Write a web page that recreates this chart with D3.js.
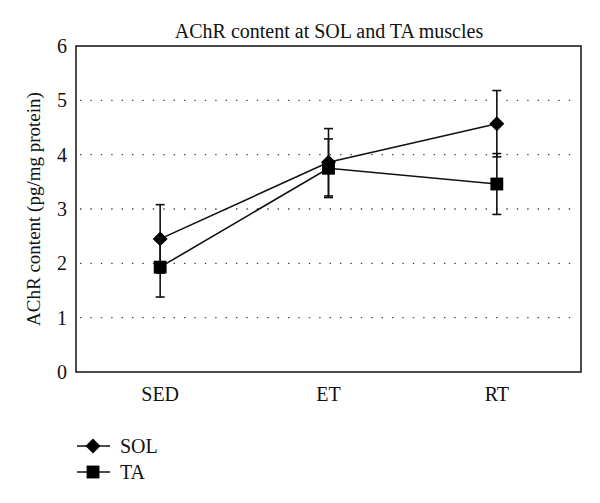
<!DOCTYPE html>
<html><head><meta charset="utf-8">
<script src="https://cdn.jsdelivr.net/npm/d3@7"></script>
<style>body{margin:0;background:#fff}svg{display:block}</style>
</head><body>
<svg id="chart" width="600" height="503"></svg>
<script>
const categories = ["SED", "ET", "RT"];
const solValues = [2.45, 3.86, 4.57];
const solErrors = [0.63, 0.62, 0.61];
const taValues = [1.93, 3.75, 3.46];
const taErrors = [0.55, 0.54, 0.56];
const yTicks = [0, 1, 2, 3, 4, 5, 6];
const gridTicks = [1, 2, 3, 4, 5];

const svg = d3.select("#chart");
const font = "'Liberation Serif', 'DejaVu Serif', serif";
const L = 76, R = 581, T = 46, B = 372;
const x = d3.scalePoint().domain(categories).range([L, R]).padding(0.5);
const y = d3.scaleLinear().domain([0, 6]).range([B, T]);

// grid
svg.append("g").selectAll("line").data(gridTicks).join("line")
  .attr("x1", L + 4).attr("x2", R - 2)
  .attr("y1", d => y(d)).attr("y2", d => y(d))
  .attr("stroke", "#444").attr("stroke-width", 1.3)
  .attr("stroke-dasharray", "1.4,9");

// frame
svg.append("rect").attr("x", L).attr("y", T).attr("width", R - L).attr("height", B - T)
  .attr("fill", "none").attr("stroke", "#111").attr("stroke-width", 1.5);

// y axis ticks labels
svg.append("g").selectAll("text").data(yTicks).join("text")
  .attr("x", 62).attr("y", d => y(d) + 7)
  .attr("text-anchor", "middle").attr("font-family", font).attr("font-size", 20)
  .attr("fill", "#111").text(d => d);

// x labels
svg.append("g").selectAll("text").data(categories).join("text")
  .attr("x", d => x(d)).attr("y", 401)
  .attr("text-anchor", "middle").attr("font-family", font).attr("font-size", 20)
  .attr("fill", "#111").text(d => d);

// title
svg.append("text").attr("x", 329).attr("y", 38).attr("text-anchor", "middle")
  .attr("font-family", font).attr("font-size", 20).attr("fill", "#111")
  .text("AChR content at SOL and TA muscles");

// y label
svg.append("text").attr("transform", "translate(40,209) rotate(-90)")
  .attr("text-anchor", "middle").attr("font-family", font).attr("font-size", 19)
  .attr("fill", "#111").text("AChR content (pg/mg protein)");

const series = [
  {name: "SOL", values: solValues, errors: solErrors, shape: d3.symbolSquare, size: 112, rot: 45},
  {name: "TA", values: taValues, errors: taErrors, shape: d3.symbolSquare, size: 165, rot: 0}
];

const line = d3.line().x(d => x(d.c)).y(d => y(d.v));

series.forEach(s => {
  const pts = categories.map((c, i) => ({c, v: s.values[i], e: s.errors[i]}));
  const g = svg.append("g");
  // error bars
  pts.forEach(p => {
    g.append("line").attr("x1", x(p.c)).attr("x2", x(p.c))
      .attr("y1", y(p.v - p.e)).attr("y2", y(p.v + p.e))
      .attr("stroke", "#111").attr("stroke-width", 1.6);
    [p.v - p.e, p.v + p.e].forEach(v => {
      g.append("line").attr("x1", x(p.c) - 4.5).attr("x2", x(p.c) + 4.5)
        .attr("y1", y(v)).attr("y2", y(v))
        .attr("stroke", "#111").attr("stroke-width", 1.6);
    });
  });
  g.append("path").datum(pts).attr("d", line)
    .attr("fill", "none").attr("stroke", "#111").attr("stroke-width", 1.6);
  g.selectAll("path.m").data(pts).join("path").attr("class", "m")
    .attr("transform", d => `translate(${x(d.c)},${y(d.v)}) rotate(${s.rot})`)
    .attr("d", d3.symbol().type(s.shape).size(s.size))
    .attr("fill", "#000");
});

// legend
series.forEach((s, i) => {
  const ly = 446 + i * 26;
  svg.append("line").attr("x1", 77).attr("x2", 110).attr("y1", ly).attr("y2", ly)
    .attr("stroke", "#111").attr("stroke-width", 1.6);
  svg.append("path").attr("transform", `translate(93,${ly}) rotate(${s.rot})`)
    .attr("d", d3.symbol().type(s.shape).size(s.size)).attr("fill", "#000");
  svg.append("text").attr("x", 120).attr("y", ly + 7).attr("font-family", font)
    .attr("font-size", 20).attr("fill", "#111").text(s.name);
});
</script>
</body></html>
